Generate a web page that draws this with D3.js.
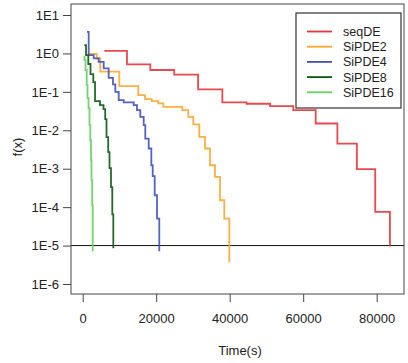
<!DOCTYPE html>
<html><head><meta charset="utf-8">
<script src="https://cdn.jsdelivr.net/npm/d3@7"></script>
<style>body{margin:0;background:#fff}svg{display:block}text{font-family:"Liberation Sans",Arial,sans-serif;fill:#222}</style>
</head><body>
<script>
// ---- data: [time (s), f(x)] step points ----
const seriesNames = ["seqDE","SiPDE2","SiPDE4","SiPDE8","SiPDE16"];
const seqDE = [[5900,1.17],[12050,0.52],[18400,0.37],[24900,0.28],[31400,0.116],[38000,0.053],[44600,0.049],[51000,0.0425],[57300,0.0334],[63400,0.015],[69300,0.0045],[74600,0.00097],[79600,7.5e-5],[83600,9.4e-6]];
const SiPDE2 = [[1800,0.97],[3810,0.75],[4790,0.336],[9960,0.141],[15130,0.082],[16950,0.0645],[18780,0.0573],[20570,0.0499],[21930,0.0407],[27100,0.0334],[28730,0.0223],[30100,0.0142],[31730,0.00673],[33280,0.00336],[34640,0.00123],[36000,0.00061],[37370,0.000151],[38530,5.0e-5],[39890,3.7e-6]];
const SiPDE4 = [[1170,3.65],[1630,0.90],[2990,0.74],[4350,0.60],[5710,0.41],[7070,0.23],[8240,0.156],[8870,0.10],[9800,0.061],[11160,0.053],[13880,0.045],[14780,0.0334],[15670,0.0223],[16600,0.0136],[17030,0.0061],[17960,0.00336],[18670,0.00123],[19050,0.00064],[19590,0.000204],[20220,5.0e-5],[20840,7.1e-6]];
const SiPDE8 = [[435,1.64],[900,0.90],[1520,0.53],[2120,0.29],[2880,0.179],[3350,0.0573],[4710,0.045],[5660,0.0354],[6120,0.0195],[6480,0.0066],[6940,0.0027],[7290,0.00103],[7700,0.00033],[8050,6.5e-5],[8330,8.5e-6]];
const SiPDE16 = [[220,0.815],[490,0.67],[760,0.37],[1090,0.149],[1310,0.0685],[1580,0.0376],[1850,0.0136],[2070,0.0055],[2260,0.00166],[2390,0.0005],[2590,0.000112],[2720,7.1e-6]];
const xTicks = [0,20000,40000,60000,80000];
const yTicks = [1e1,1e0,1e-1,1e-2,1e-3,1e-4,1e-5,1e-6];
const yTickLabels = ["1E1","1E0","1E-1","1E-2","1E-3","1E-4","1E-5","1E-6"];
const threshold = 1e-5;
const colors = ["#e8343a","#ffa52f","#4052b8","#0c5a12","#62cf5e"];
const allSeries = [seqDE,SiPDE2,SiPDE4,SiPDE8,SiPDE16];

const W=408,H=363;
const box={l:71,r:404,t:4,b:294};
const x=d3.scaleLinear().domain([0,80000]).range([82.7,376.7]);
const y=d3.scaleLog().domain([1e1,1e-6]).range([15,284]);

const svg=d3.select("body").append("svg").attr("width",W).attr("height",H);

// threshold line
svg.append("line").attr("x1",box.l).attr("x2",box.r).attr("y1",y(threshold)).attr("y2",y(threshold))
  .attr("stroke","#111").attr("stroke-width",1);

// series
const line=d3.line().x(d=>x(d[0])).y(d=>y(d[1])).curve(d3.curveStepAfter);
allSeries.forEach((s,i)=>{
  svg.append("path").attr("d",line(s)).attr("fill","none").attr("stroke",colors[i])
    .attr("stroke-width",1.8).attr("stroke-opacity",0.9);
});

// box
svg.append("rect").attr("x",box.l).attr("y",box.t).attr("width",box.r-box.l).attr("height",box.b-box.t)
  .attr("fill","none").attr("stroke","#444").attr("stroke-width",1);

// axes
const xAxis=d3.axisBottom(x).tickValues(xTicks).tickFormat(d3.format("d")).tickSize(8).tickPadding(12);
const gx=svg.append("g").attr("transform",`translate(0,${box.b})`).call(xAxis);
gx.select(".domain").remove();
gx.selectAll("line").attr("stroke","#444");
gx.selectAll("text").attr("font-size",13).attr("fill","#222");

const yAxis=d3.axisLeft(y).tickValues(yTicks).tickFormat((d,i)=>yTickLabels[i]).tickSize(8).tickPadding(4);
const gy=svg.append("g").attr("transform",`translate(${box.l},0)`).call(yAxis);
gy.select(".domain").remove();
gy.selectAll("line").attr("stroke","#444");
gy.selectAll("text").attr("font-size",13).attr("fill","#222");

// axis titles
svg.append("text").attr("x",240).attr("y",355).attr("text-anchor","middle").attr("font-size",13).text("Time(s)");
svg.append("text").attr("transform","translate(22,147) rotate(-90)").attr("text-anchor","middle").attr("font-size",13).text("f(x)");

// legend
const lg=svg.append("g");
lg.append("rect").attr("x",296).attr("y",13).attr("width",105).attr("height",95)
  .attr("fill","#fff").attr("stroke","#333").attr("stroke-width",1.2);
seriesNames.forEach((n,i)=>{
  const yy=31.5+i*15.2;
  lg.append("line").attr("x1",307).attr("x2",332).attr("y1",yy).attr("y2",yy).attr("stroke",colors[i]).attr("stroke-width",1.8);
  lg.append("text").attr("x",343).attr("y",yy+4.5).attr("font-size",12.5).text(n);
});
</script>
</body></html>
